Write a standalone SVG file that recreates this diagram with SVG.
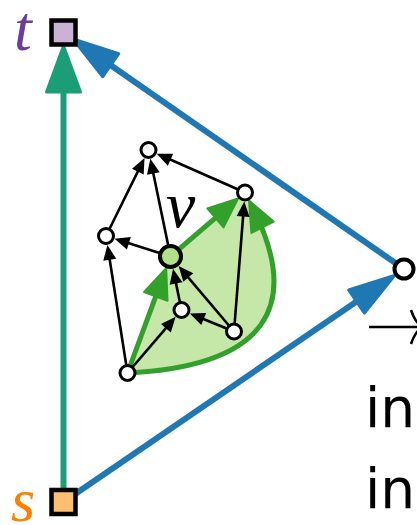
<svg xmlns="http://www.w3.org/2000/svg" width="417" height="525" viewBox="0 0 417 525">
<style>
.blk{stroke:#000;stroke-width:2.6;fill:none;marker-end:url(#mBlk)}
.grn{stroke:#33a02c;stroke-width:5;fill:none;marker-end:url(#mGrn)}
.blue{stroke:#1f78b4;stroke-width:6;fill:none;marker-end:url(#mBlue)}
.teal{stroke:#1b9e77;stroke-width:6;fill:none;marker-end:url(#mTeal)}
.node{fill:#fff;stroke:#000;stroke-width:3}
.lbl{font-family:"Liberation Serif","DejaVu Serif",serif;font-style:italic}
.txt{font-family:"DejaVu Sans","Liberation Sans",sans-serif;font-size:55px;fill:#000}
</style>
<defs>
<marker id="mBlk" markerUnits="userSpaceOnUse" orient="auto" markerWidth="16" markerHeight="14" refX="9" refY="6.5" overflow="visible"><path d="M0,0 L15,6.5 L0,13 z" fill="#000"/></marker>
<marker id="mGrn" markerUnits="userSpaceOnUse" orient="auto" markerWidth="32" markerHeight="27" refX="22" refY="12.5" overflow="visible"><path d="M0,0 L30,12.5 L0,25 z" fill="#33a02c" stroke="#33a02c" stroke-width="2" stroke-linejoin="round"/></marker>
<marker id="mBlue" markerUnits="userSpaceOnUse" orient="auto" markerWidth="48" markerHeight="30" refX="36" refY="14" overflow="visible"><path d="M0,0 L46,14 L0,28 z" fill="#1f78b4" stroke="#1f78b4" stroke-width="3" stroke-linejoin="round"/></marker>
<marker id="mTeal" markerUnits="userSpaceOnUse" orient="auto" markerWidth="48" markerHeight="36" refX="36" refY="17" overflow="visible"><path d="M0,0 L46,17 L0,34 z" fill="#1b9e77" stroke="#1b9e77" stroke-width="3" stroke-linejoin="round"/></marker>
</defs>

<g id="region">
<path d="M127.5,373 L170.5,256.5 L245,192.5 L252.6,207.6 C302.1,305.5 267.5,366 127.5,373 Z" fill="#b2df8a" fill-opacity="0.75"/>
</g>

<g id="connectors">
<line class="teal" x1="63.5" y1="502" x2="63.5" y2="56"/>
<line class="blue" x1="63.5" y1="502" x2="386.25" y2="281.15"/>
<line class="blue" x1="404" y1="269" x2="81.2" y2="44.7"/>
<line class="grn" x1="127.5" y1="373" x2="163.4" y2="275.73"/>
<line class="grn" x1="170.5" y1="256.5" x2="232.1" y2="203.58"/>
<path class="grn" d="M127.5,373 C267.5,366 302.1,305.5 252.6,207.6"/>
<line class="blk" x1="106" y1="236" x2="141.85" y2="163.45"/>
<line class="blk" x1="170.5" y1="256.5" x2="151.53" y2="164.69"/>
<line class="blk" x1="245" y1="192.5" x2="162.23" y2="156.05"/>
<line class="blk" x1="170.5" y1="256.5" x2="120.3" y2="240.54"/>
<line class="blk" x1="127.5" y1="373" x2="108.33" y2="250.82"/>
<line class="blk" x1="181.5" y1="310" x2="174.23" y2="274.62"/>
<line class="blk" x1="234" y1="331.5" x2="182.45" y2="270.62"/>
<line class="blk" x1="234" y1="331.5" x2="195.38" y2="315.69"/>
<line class="blk" x1="127.5" y1="373" x2="171.74" y2="321.39"/>
<line class="blk" x1="234" y1="331.5" x2="243.82" y2="207.45"/>
</g>

<g id="node-t"><rect x="51.5" y="20.5" width="24" height="24" fill="#cab2d6" stroke="#000" stroke-width="4.5"/><text class="lbl" x="14" y="50" font-size="64" fill="#6a3d9a">t</text></g>
<g id="node-s"><rect x="51.5" y="490" width="24" height="24" fill="#fdbf6f" stroke="#000" stroke-width="4.5"/><text class="lbl" x="11" y="521" font-size="62" fill="#ff7f00">s</text></g>
<g id="node-r"><circle cx="404" cy="269" r="9.5" fill="#fff" stroke="#000" stroke-width="4"/></g>
<g id="node-a"><circle class="node" cx="148.5" cy="150" r="7.5"/></g>
<g id="node-b"><circle class="node" cx="245" cy="192.5" r="7.5"/></g>
<g id="node-c"><circle class="node" cx="106" cy="236" r="7.5"/></g>
<g id="node-v"><circle cx="170.5" cy="256.5" r="10.5" fill="#b2df8a" stroke="#000" stroke-width="4"/><text class="lbl" x="166" y="227" font-size="66" fill="#000">v</text></g>
<g id="node-d"><circle class="node" cx="181.5" cy="310" r="7.5"/></g>
<g id="node-e"><circle class="node" cx="234" cy="331.5" r="7.5"/></g>
<g id="node-f"><circle class="node" cx="127.5" cy="373" r="7.5"/></g>

<g id="side-text">
<path d="M369,327 L421,327 M411,310 Q415,322 422,327 M411,344 Q415,332 422,327" fill="none" stroke="#000" stroke-width="2.5"/>
<text class="txt" x="365" y="427">in</text>
<text class="txt" x="365" y="508">in</text>
</g>
</svg>
